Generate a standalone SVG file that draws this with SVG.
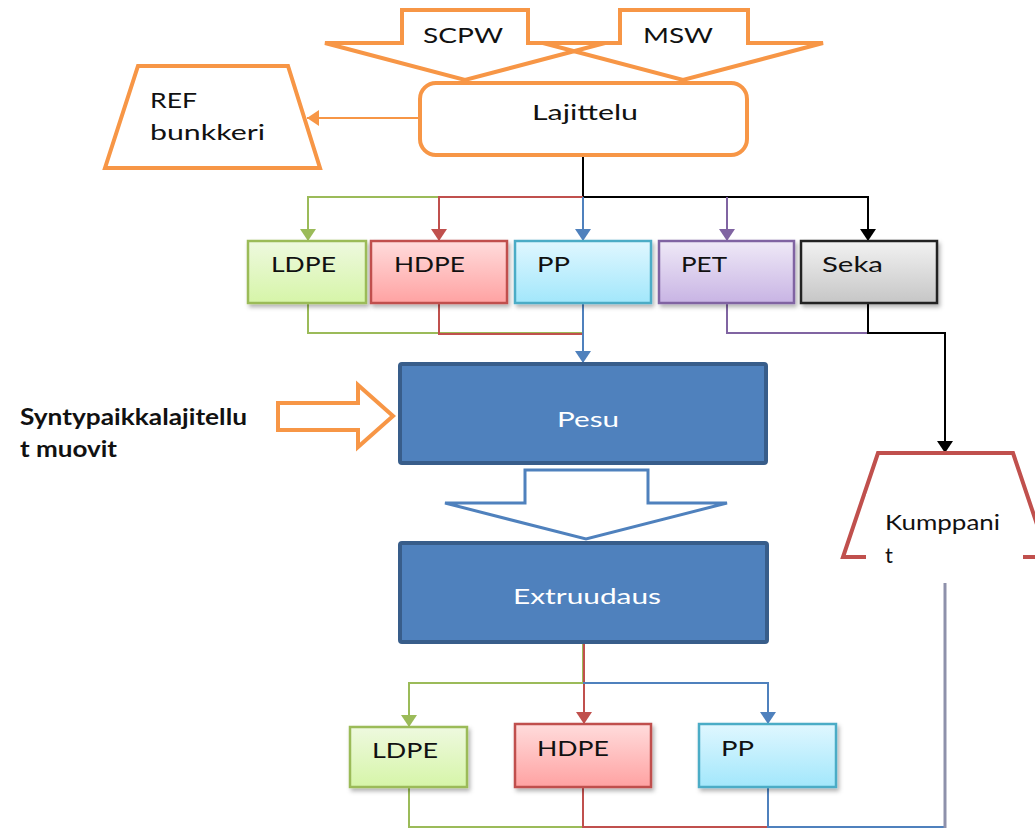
<svg xmlns="http://www.w3.org/2000/svg" width="1035" height="828" viewBox="0 0 1035 828">
<style>
.t{font-family:Lato,"Open Sans","Liberation Sans",sans-serif;font-size:22px;fill:#111}
.w{fill:#fff}
.b{font-weight:bold;font-size:22px}
.or{fill:none;stroke:#F79646;stroke-width:4;stroke-linejoin:miter}
.c{fill:none;stroke-width:2}
.g{stroke:#9BBB59}.r{stroke:#C0504D}.bl{stroke:#4F81BD}.p{stroke:#8064A2}.k{stroke:#000}
.blue{fill:#4F81BD;stroke:#385D8A;stroke-width:4}
.bx{stroke-width:2.5}
</style>
<defs>
<linearGradient id="gG" x1="0" y1="0" x2="0" y2="1"><stop offset="0" stop-color="#EEF9DF"/><stop offset="1" stop-color="#D6F5A8"/></linearGradient>
<linearGradient id="gR" x1="0" y1="0" x2="0" y2="1"><stop offset="0" stop-color="#FFDCDC"/><stop offset="1" stop-color="#FFA2A2"/></linearGradient>
<linearGradient id="gB" x1="0" y1="0" x2="0" y2="1"><stop offset="0" stop-color="#E0F7FF"/><stop offset="1" stop-color="#A2E7FB"/></linearGradient>
<linearGradient id="gP" x1="0" y1="0" x2="0" y2="1"><stop offset="0" stop-color="#EFE9F7"/><stop offset="1" stop-color="#C8B4E4"/></linearGradient>
<linearGradient id="gK" x1="0" y1="0" x2="0" y2="1"><stop offset="0" stop-color="#F2F2F2"/><stop offset="1" stop-color="#C6C6C6"/></linearGradient>
<filter id="sh" x="-10%" y="-10%" width="125%" height="130%"><feDropShadow dx="2" dy="3" stdDeviation="2" flood-color="#000" flood-opacity="0.3"/></filter>
<marker id="mG" markerUnits="userSpaceOnUse" markerWidth="16" markerHeight="16" refX="12" refY="8" orient="auto"><path d="M0,0 L12,8 L0,16 Z" fill="#9BBB59"/></marker>
<marker id="mR" markerUnits="userSpaceOnUse" markerWidth="16" markerHeight="16" refX="12" refY="8" orient="auto"><path d="M0,0 L12,8 L0,16 Z" fill="#C0504D"/></marker>
<marker id="mB" markerUnits="userSpaceOnUse" markerWidth="16" markerHeight="16" refX="12" refY="8" orient="auto"><path d="M0,0 L12,8 L0,16 Z" fill="#4F81BD"/></marker>
<marker id="mP" markerUnits="userSpaceOnUse" markerWidth="16" markerHeight="16" refX="12" refY="8" orient="auto"><path d="M0,0 L12,8 L0,16 Z" fill="#8064A2"/></marker>
<marker id="mK" markerUnits="userSpaceOnUse" markerWidth="16" markerHeight="16" refX="12" refY="8" orient="auto"><path d="M0,0 L12,8 L0,16 Z" fill="#000"/></marker>
<marker id="mO" markerUnits="userSpaceOnUse" markerWidth="16" markerHeight="16" refX="12" refY="8" orient="auto"><path d="M0,0 L12,8 L0,16 Z" fill="#F79646"/></marker>
</defs>
<rect width="1035" height="828" fill="#fff"/>

<g id="connectors">
<path class="c" stroke="#F79646" d="M420,118 H307" marker-end="url(#mO)"/>
<path class="c k" d="M583,155 V197 H868 V241" marker-end="url(#mK)"/>
<path class="c g" d="M583,197 H308 V241" marker-end="url(#mG)"/>
<path class="c r" d="M583,197 H439 V241" marker-end="url(#mR)"/>
<path class="c bl" d="M583,197 V241" marker-end="url(#mB)"/>
<path class="c p" d="M727,197 V241" marker-end="url(#mP)"/>
<path class="c g" d="M308,303 V333 H583"/>
<path class="c r" d="M439,303 V334 H583"/>
<path class="c bl" d="M583,303 V363" marker-end="url(#mB)"/>
<path class="c p" d="M727,303 V333 H868"/>
<path class="c k" d="M868,303 V333 H945 V453" marker-end="url(#mK)"/>
<path class="c g" d="M583,643 V683 H409 V727" marker-end="url(#mG)"/>
<path class="c r" d="M584,643 V724" marker-end="url(#mR)"/>
<path class="c bl" d="M583,683 H768 V724" marker-end="url(#mB)"/>
<path class="c g" d="M409,787 V827 H583"/>
<path class="c r" d="M583,787 V827 H768"/>
<path class="c bl" d="M768,787 V827 H945"/>
<path fill="none" stroke="#8E91AB" stroke-width="3" d="M945,583 V828"/>
</g>

<g id="scpw"><path class="or" d="M402,10 H528 V43 H605 L465,80 L325,43 H402 Z"/>
<text class="t" x="423" y="43" textLength="80" lengthAdjust="spacingAndGlyphs">SCPW</text></g>
<g id="msw"><path class="or" d="M620,10 H748 V43 H823 L683,80 L543,43 H620 Z"/>
<text class="t" x="643" y="43" textLength="70" lengthAdjust="spacingAndGlyphs">MSW</text></g>

<g id="lajittelu"><rect class="or" fill="#fff" x="420" y="83" width="327" height="72" rx="16"/>
<text class="t" x="532" y="120" textLength="106" lengthAdjust="spacingAndGlyphs">Lajittelu</text></g>

<g id="ref"><path class="or" fill="#fff" d="M138,66 H288 L320,168 H105 Z"/>
<text class="t" x="150" y="108" textLength="47" lengthAdjust="spacingAndGlyphs">REF</text>
<text class="t" x="150" y="140" textLength="115" lengthAdjust="spacingAndGlyphs">bunkkeri</text></g>

<g id="ldpe1"><rect class="bx" x="248" y="241" width="118" height="62" fill="url(#gG)" stroke="#9BBB59" filter="url(#sh)"/>
<text class="t" x="271" y="272" textLength="65" lengthAdjust="spacingAndGlyphs">LDPE</text></g>
<g id="hdpe1"><rect class="bx" x="371" y="241" width="136" height="62" fill="url(#gR)" stroke="#C0504D" filter="url(#sh)"/>
<text class="t" x="394" y="272" textLength="71" lengthAdjust="spacingAndGlyphs">HDPE</text></g>
<g id="pp1"><rect class="bx" x="515" y="241" width="136" height="62" fill="url(#gB)" stroke="#4BACC6" filter="url(#sh)"/>
<text class="t" x="537" y="272" textLength="33" lengthAdjust="spacingAndGlyphs">PP</text></g>
<g id="pet"><rect class="bx" x="659" y="241" width="135" height="62" fill="url(#gP)" stroke="#8064A2" filter="url(#sh)"/>
<text class="t" x="681" y="272" textLength="46" lengthAdjust="spacingAndGlyphs">PET</text></g>
<g id="seka"><rect class="bx" x="801" y="241" width="136" height="62" fill="url(#gK)" stroke="#222" filter="url(#sh)"/>
<text class="t" x="822" y="272" textLength="61" lengthAdjust="spacingAndGlyphs">Seka</text></g>

<g id="pesu"><rect class="blue" x="400" y="364" width="366" height="99" rx="2"/>
<text class="t w" x="557" y="427" textLength="62" lengthAdjust="spacingAndGlyphs">Pesu</text></g>

<g id="syntypaikka"><path class="or" fill="#fff" d="M278,403 H358 V385 L393,416 L358,447 V430 H278 Z"/>
<text class="t b" x="20" y="425" textLength="227" lengthAdjust="spacingAndGlyphs">Syntypaikkalajitellu</text>
<text class="t b" x="20" y="457" textLength="97" lengthAdjust="spacingAndGlyphs">t muovit</text></g>

<g id="flow-arrow"><path fill="#fff" stroke="#4F81BD" stroke-width="3" d="M525,470 H648 V503 H727 L586,539 L445,503 H525 Z"/></g>

<g id="extruudaus"><rect class="blue" x="400" y="543" width="367" height="99" rx="2"/>
<text class="t w" x="513" y="604" textLength="148" lengthAdjust="spacingAndGlyphs">Extruudaus</text></g>

<g id="kumppanit"><path fill="#fff" stroke="#C0504D" stroke-width="4" d="M878,453 H1013 L1048,557 H843 Z"/>
<rect x="866" y="494" width="157" height="89" fill="#fff"/>
<text class="t" x="885" y="530" textLength="115" lengthAdjust="spacingAndGlyphs">Kumppani</text>
<text class="t" x="885" y="563">t</text></g>

<g id="ldpe2"><rect class="bx" x="350" y="727" width="117" height="60" fill="url(#gG)" stroke="#9BBB59" filter="url(#sh)"/>
<text class="t" x="372" y="758" textLength="66" lengthAdjust="spacingAndGlyphs">LDPE</text></g>
<g id="hdpe2"><rect class="bx" x="515" y="724" width="136" height="63" fill="url(#gR)" stroke="#C0504D" filter="url(#sh)"/>
<text class="t" x="537" y="756" textLength="72" lengthAdjust="spacingAndGlyphs">HDPE</text></g>
<g id="pp2"><rect class="bx" x="699" y="724" width="137" height="63" fill="url(#gB)" stroke="#4BACC6" filter="url(#sh)"/>
<text class="t" x="721" y="756" textLength="33" lengthAdjust="spacingAndGlyphs">PP</text></g>
</svg>
